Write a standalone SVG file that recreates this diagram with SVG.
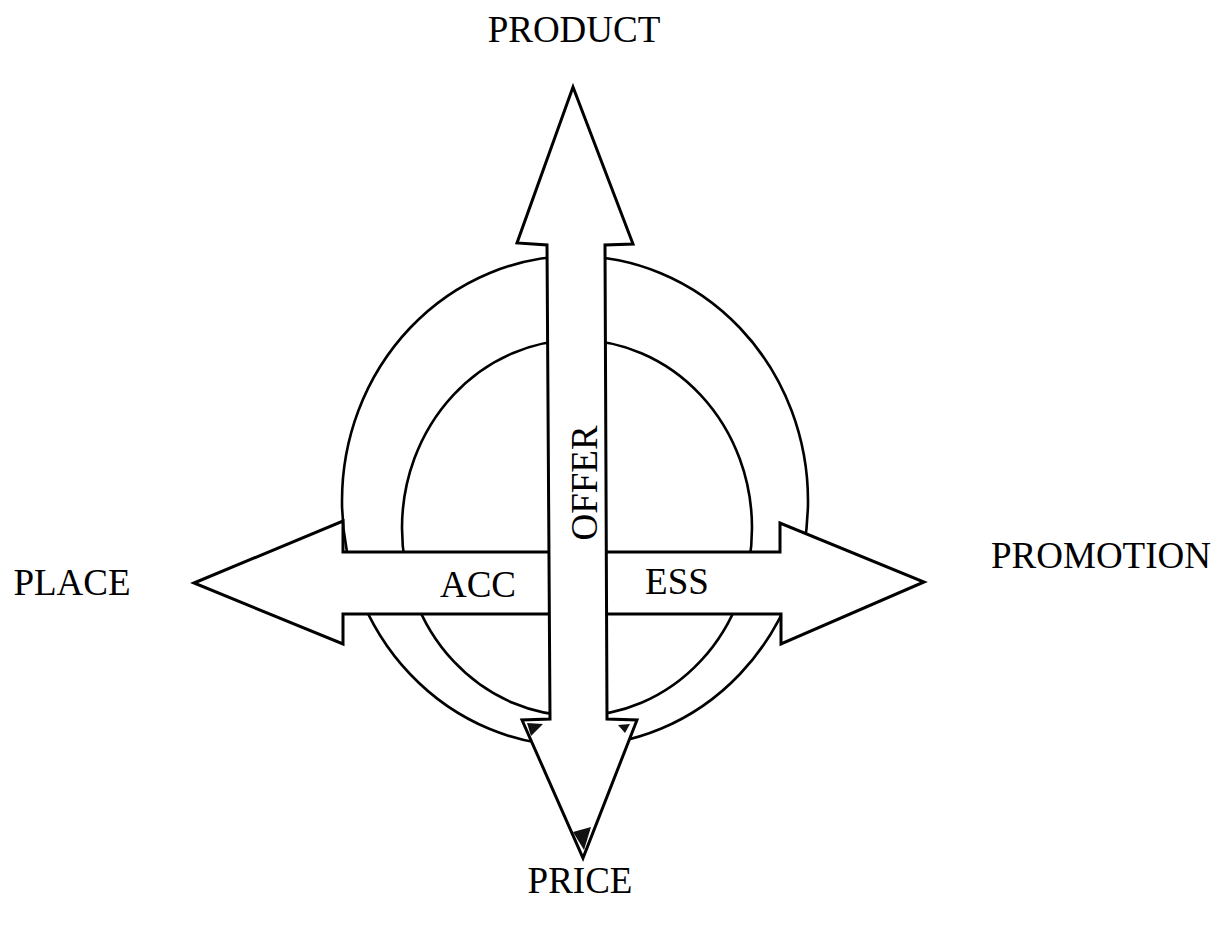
<svg xmlns="http://www.w3.org/2000/svg" width="1226" height="926" viewBox="0 0 1226 926">
  <style>
    .ring { fill: none; stroke: #000; stroke-width: 2.6; }
    .arrow { fill: #fff; stroke: #000; stroke-width: 3; stroke-linejoin: miter; }
    .lbl { font-family: "Liberation Serif", "Times New Roman", serif; font-size: 37px; fill: #000; }
    .blob { fill: #111; }
  </style>
  <rect width="1226" height="926" fill="#fff"/>
  <g id="rings">
    <ellipse id="outer-ring" class="ring" cx="575" cy="501" rx="233" ry="245"/>
    <ellipse id="inner-ring" class="ring" cx="577" cy="528" rx="175" ry="188"/>
  </g>
  <g id="connectors">
    <g id="horizontal-arrow">
      <polygon class="arrow" points="194,583 343,521 343,552 780,552 780,523 924,582 781,644 781,614 343,614 343,644"/>
    </g>
    <g id="vertical-arrow">
      <polygon class="arrow" points="573,87 633,244 605,245 607,719 637,720 583,858 522,720 550,719 547,245 517,243"/>
      <polygon class="blob" points="527,723 543,724 531,736"/>
      <polygon class="blob" points="618,725 630,724 625,733"/>
      <polygon class="blob" points="573,832 591,827 584,850"/>
    </g>
  </g>
  <g id="node-product"><text class="lbl" x="574" y="42" text-anchor="middle">PRODUCT</text></g>
  <g id="node-place"><text class="lbl" x="72" y="595" text-anchor="middle">PLACE</text></g>
  <g id="node-promotion"><text class="lbl" x="1101" y="568" text-anchor="middle">PROMOTION</text></g>
  <g id="node-price"><text class="lbl" x="580" y="893" text-anchor="middle">PRICE</text></g>
  <g id="node-offer"><text class="lbl" transform="translate(597,483) rotate(-90)" x="0" y="0" text-anchor="middle" font-size="35">OFFER</text></g>
  <g id="node-acc"><text class="lbl" x="478" y="597" text-anchor="middle">ACC</text></g>
  <g id="node-ess"><text class="lbl" x="677" y="594" text-anchor="middle">ESS</text></g>
</svg>
